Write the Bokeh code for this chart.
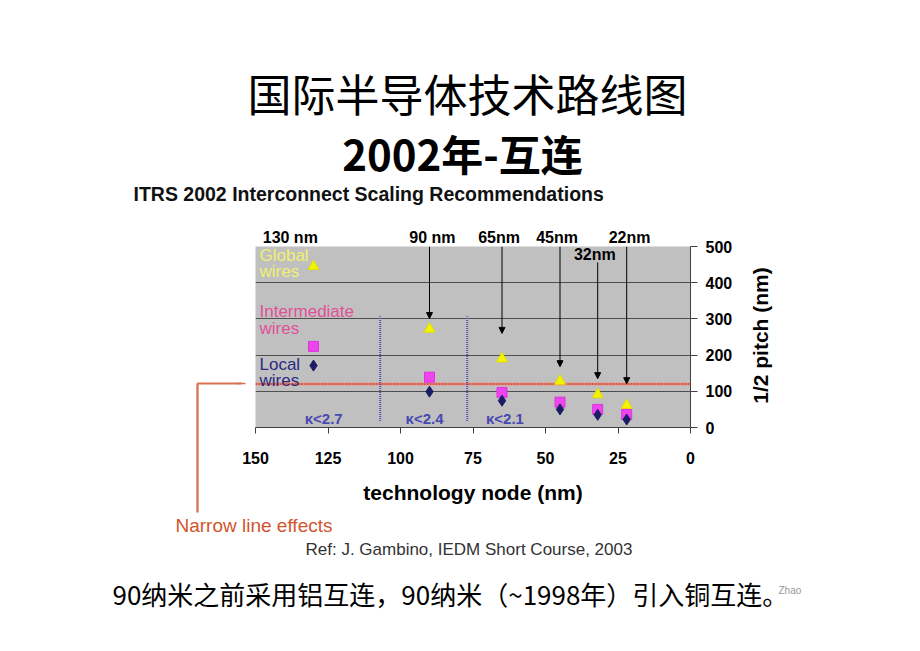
import math
from bokeh.plotting import figure
from bokeh.models import (Range1d, FixedTicker, Label, Arrow, NormalHead)
from bokeh.embed import file_html
from bokeh.resources import INLINE

# ---------------- data ----------------
nodes = [130, 90, 65, 45, 32, 22]
global_wires = [445, 272, 190, 128, 91, 61]
intermediate_wires = [224, 139, 97, 70, 50, 36]
local_wires = [171, 99, 74, 50, 35, 22]

arrow_nodes = [90, 65, 45, 32, 22]
arrow_start = [500, 500, 500, 456, 500]
arrow_end = [301, 260, 168, 135, 121]
node_labels = ["130 nm", "90 nm", "65nm", "45nm", "32nm", "22nm"]
node_label_x = [138, 89, 66, 46, 33, 21]
node_label_y = [525, 525, 525, 525, 478, 525]

k_bounds = [107, 77]
k_labels = ["κ<2.7", "κ<2.4", "κ<2.1"]
k_label_x = [126.5, 91.7, 64]
narrow_line = 120

x_ticks = [150, 125, 100, 75, 50, 25, 0]
y_ticks = [0, 100, 200, 300, 400, 500]

# ---------------- figure ----------------
W, H = 904, 635
L, R, T, B = 255, 690, 246, 427   # frame edges in page pixels
p = figure(width=W, height=H, output_backend="svg", toolbar_location=None,
           x_range=Range1d(150, 0), y_range=Range1d(0, 500),
           y_axis_location="right",
           min_border_left=L, min_border_right=W - R,
           min_border_top=T, min_border_bottom=H - B)
p.background_fill_color = "#c0c0c0"
p.border_fill_color = "white"
p.outline_line_color = None

def dx(px):
    return 150 - (px - L) / (R - L) * 150
def dy(py):
    return (B - py) / (B - T) * 500

SANS = "Liberation Sans"
CJK = "Noto Sans CJK SC"
ORANGE = "#d87050"

p.xgrid.grid_line_color = None
p.ygrid.grid_line_color = "#505050"
p.ygrid.grid_line_width = 1
p.ygrid.ticker = FixedTicker(ticks=y_ticks)

xa = p.xaxis[0]
xa.ticker = FixedTicker(ticks=x_ticks)
xa.axis_label = "technology node (nm)"
xa.axis_label_text_font = SANS
xa.axis_label_text_font_style = "bold"
xa.axis_label_text_font_size = "21px"
xa.axis_label_text_color = "black"
xa.axis_label_standoff = 14
xa.major_label_text_font = SANS
xa.major_label_text_font_style = "bold"
xa.major_label_text_font_size = "16px"
xa.major_label_text_color = "black"
xa.major_label_standoff = 18
xa.major_tick_in = 0
xa.major_tick_out = 6
xa.minor_tick_out = 0
xa.minor_tick_in = 0
xa.axis_line_color = "#404040"
xa.major_tick_line_color = "#404040"

ya = p.yaxis[0]
ya.ticker = FixedTicker(ticks=y_ticks)
ya.major_label_text_font = SANS
ya.major_label_text_font_style = "bold"
ya.major_label_text_font_size = "16px"
ya.major_label_text_color = "black"
ya.major_label_standoff = 8
ya.major_tick_in = 0
ya.major_tick_out = 7
ya.minor_tick_out = 0
ya.minor_tick_in = 0
ya.axis_line_color = "#404040"
ya.major_tick_line_color = "#404040"

# narrow line effect level (drawn below the markers)
p.segment(x0=[150], y0=[narrow_line], x1=[0], y1=[narrow_line],
          line_color="#e8a08c", line_width=4, line_alpha=0.8)
p.segment(x0=[150], y0=[narrow_line], x1=[0], y1=[narrow_line],
          line_color="#c83838", line_width=1.5, line_dash="2 1")

# dielectric boundaries
p.segment(x0=k_bounds, y0=[18, 18], x1=k_bounds, y1=[307, 307],
          line_color="#5050b8", line_width=2, line_dash="1 1")

for t, x in zip(k_labels, k_label_x):
    p.add_layout(Label(x=x, y=25, text=t, text_align="center", text_baseline="middle",
                       text_font=SANS, text_font_style="bold", text_font_size="15px",
                       text_color="#4848b0"))

# arrows from node labels
for x, y0, y1 in zip(arrow_nodes, arrow_start, arrow_end):
    p.add_layout(Arrow(x_start=x, y_start=y0, x_end=x, y_end=y1,
                       line_color="black", line_width=1,
                       end=NormalHead(size=6, fill_color="black", line_color="black")))

# node labels: the one inside the frame in the center, the rest in the top panel
for t, x, y in zip(node_labels, node_label_x, node_label_y):
    lab = Label(x=x, y=y, text=t, text_align="center", text_baseline="middle",
                text_font=SANS, text_font_style="bold", text_font_size="16px",
                text_color="black")
    if y <= 500:
        p.add_layout(lab)
    else:
        p.add_layout(lab, "above")

# markers
p.scatter(nodes, global_wires, marker="triangle", size=11, fill_color="#f4f400",
          line_color="#e0e000")
p.scatter(nodes, intermediate_wires, marker="square", size=10, fill_color="#ee44ee",
          line_color="#dd33dd")
p.scatter(nodes, local_wires, marker="diamond", size=11, fill_color="#1c1c66",
          line_color="#1c1c66")

# in-plot legend texts
legend_items = [("Global", 255, "#f0f070"), ("wires", 271, "#f0f070"),
                ("Intermediate", 311, "#e0509a"), ("wires", 328, "#e0509a"),
                ("Local", 364, "#2a2a80"), ("wires", 380, "#2a2a80")]
for t, py, c in legend_items:
    p.add_layout(Label(x=dx(259), y=dy(py), text=t, text_align="left", text_baseline="middle",
                       text_font=SANS, text_font_size="17px", text_color=c))

# right axis label (reads bottom to top)
p.add_layout(Label(x=dx(760), y=dy(335), text="1/2 pitch (nm)", angle=math.pi / 2,
                   text_align="center", text_baseline="middle", text_font=SANS,
                   text_font_style="bold", text_font_size="21px", text_color="black"),
             "right")

# narrow line effects callout: thin boxes as the line, arrow for the head
p.add_layout(Label(x=dx(197), y=dy(447.5), text=" ", text_font_size="1px",
                   text_align="center", text_baseline="middle",
                   padding=dict(left=1, right=1, top=64, bottom=64),
                   background_fill_color=ORANGE), "left")
p.add_layout(Label(x=dx(219), y=dy(383), text=" ", text_font_size="1px",
                   text_align="center", text_baseline="middle",
                   padding=dict(left=22, right=22, top=1, bottom=0),
                   background_fill_color=ORANGE), "left")
p.add_layout(Arrow(x_start=dx(236), y_start=dy(383), x_end=dx(245), y_end=dy(383),
                   line_color=ORANGE, line_width=1.5,
                   end=NormalHead(size=8, fill_color=ORANGE, line_color=ORANGE)), "left")
p.add_layout(Label(x=dx(175), y=dy(525), text="Narrow line effects", text_align="left",
                   text_baseline="middle", text_font=SANS, text_font_size="19px",
                   text_color="#d0552e"), "below")

# slide / chart texts
p.add_layout(Label(x=dx(133), y=dy(193), text="ITRS 2002 Interconnect Scaling Recommendations",
                   text_align="left", text_baseline="middle", text_font=SANS,
                   text_font_style="bold", text_font_size="19.5px", text_color="#111111"),
             "above")
p.add_layout(Label(x=dx(305), y=dy(549), text="Ref: J. Gambino, IEDM Short Course, 2003",
                   text_align="left", text_baseline="middle", text_font=SANS,
                   text_font_size="17px", text_color="#333333"), "below")
p.add_layout(Label(x=dx(467), y=dy(92), text="国际半导体技术路线图",
                   text_align="center", text_baseline="middle", text_font=CJK,
                   text_font_size="44px", text_color="black"), "above")
p.add_layout(Label(x=dx(462), y=dy(152), text="2002年-互连",
                   text_align="center", text_baseline="middle", text_font=CJK,
                   text_font_style="bold", text_font_size="42px", text_color="black"),
             "above")
p.add_layout(Label(x=dx(112), y=dy(593), text="90纳米之前采用铝互连，90纳米（~1998年）引入铜互连。",
                   text_align="left", text_baseline="middle", text_font=CJK,
                   text_font_size="26px", text_color="black"), "below")
p.add_layout(Label(x=dx(778), y=dy(590), text="Zhao",
                   text_align="left", text_baseline="middle", text_font=SANS,
                   text_font_size="10px", text_color="#999999"), "below")

open("out.html", "w").write(file_html(p, INLINE))
